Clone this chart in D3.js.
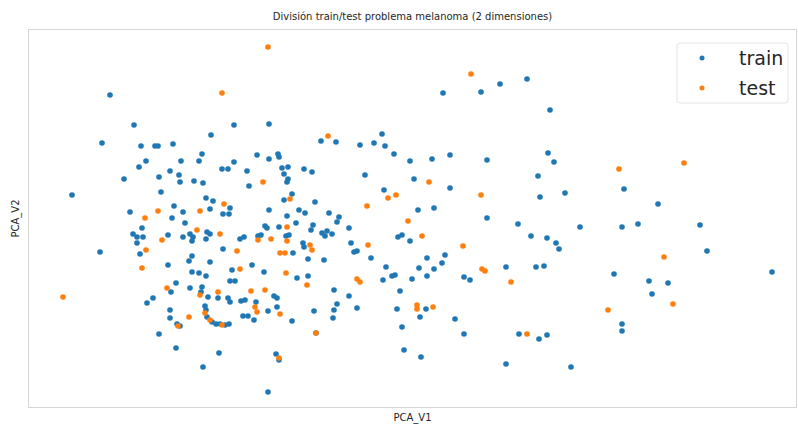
<!DOCTYPE html>
<html>
<head>
<meta charset="utf-8">
<script src="https://cdn.jsdelivr.net/npm/d3@7"></script>
<style>
  body { margin: 0; background: #fff; }
  text { font-family: "DejaVu Sans", sans-serif; fill: #262626; }
</style>
</head>
<body>
<svg width="798" height="425"></svg>
<script>
// PCA scores (approximate)
const trainX = [-2.90,-2.66,-1.89,-2.98,-2.59,-2.45,-2.42,-2.27,-1.98,-2.54,-2.19,-2.01,-2.61,-2.30,-1.78,-1.72,-2.21,-2.41,-2.76,-2.20,-2.06,-1.97,-2.39,-3.28,-1.94,-1.87,-2.26,-2.70,-2.17,-1.90,
  -2.28,-2.15,-1.77,-2.58,-2.67,-2.63,-2.57,-2.63,-2.32,-2.17,-2.10,-2.07,-2.08,-1.93,-1.94,-1.90,-3.00,-2.60,-1.77,-2.08,-2.11,-1.90,-2.32,-2.08,-2.01,-1.94,-2.24,-2.29,-2.10,-1.98,
  -1.99,-1.92,-1.82,-1.72,-2.47,-2.53,-1.95,-1.94,-2.30,-2.30,-2.41,-2.24,-1.81,-1.97,-1.93,-1.88,-1.84,-1.80,-1.75,-1.71,-2.23,-2.20,
  -1.66,-1.31,-0.79,-0.64,-0.40,-0.26,-0.18,-0.15,-0.06,-1.43,-1.31,-1.22,-1.21,-1.66,-1.53,-1.18,-1.12,-1.16,-0.96,-0.88,-1.12,-1.13,-1.51,-0.35,-0.16,-0.85,-1.70,-1.31,-1.01,-0.95,-0.71,-1.08,-1.16,
  -1.71,-1.13,-0.61,-0.63,-1.35,-1.33,-1.21,-1.04,-0.87,-0.89,-0.78,-0.75,-0.73,-0.68,-0.51,-1.60,-1.56,-1.42,-1.39,-1.14,-1.11,-0.97,-0.96,-0.49,-0.46,-0.43,-0.02,-1.07,-0.92,-0.76,-0.29,
  -1.48,-1.36,-0.14,-0.08,-0.05,-0.17,-1.03,-0.92,-1.70,-1.65,-0.66,0.00,-1.70,-1.59,-1.55,-1.26,-1.23,-0.51,-0.63,-1.23,-1.32,-0.86,-0.66,-0.43,-0.03,-1.57,-1.52,-1.46,-0.67,-1.08,0.02,0.04,-1.32,
  -1.68,-1.44,-0.84,-1.24,-1.21,
  1.00,1.27,0.43,0.81,1.50,0.10,0.32,0.50,0.87,1.48,1.54,0.14,0.50,1.38,1.40,1.65,0.18,0.34,
  0.87,1.18,1.80,0.02,0.10,1.31,1.47,1.56,1.59,0.27,0.45,0.42,0.19,0.34,0.27,0.12,0.64,0.70,1.06,1.36,1.44,0.26,0.20,0.55,0.64,1.19,1.47,1.39,0.21,1.06,1.71,
  2.24,2.58,2.22,2.38,3.00,3.07,2.14,2.49,2.68,3.72,2.52,2.22,2.22];
const trainY = [1.25,0.95,0.85,0.77,0.74,0.74,0.74,0.76,0.66,0.59,0.59,0.59,0.53,0.49,0.51,0.51,0.45,0.43,0.41,0.38,0.39,0.37,0.28,0.25,0.22,0.19,0.14,0.08,0.08,0.11,
  0.02,-0.03,0.06,-0.08,-0.14,-0.17,-0.17,-0.23,-0.15,-0.17,-0.14,-0.17,-0.21,-0.12,-0.19,-0.14,-0.32,-0.34,-0.29,-0.36,-0.41,-0.42,-0.45,-0.52,-0.53,-0.56,-0.63,-0.72,-0.68,-0.67,
  -0.72,-0.77,-0.78,-0.78,-0.78,-0.83,-0.86,-0.90,-0.90,-0.98,-1.14,-1.28,-1.33,-1.47,-0.97,-1.02,-1.04,-1.04,-1.05,-1.04,-1.04,-1.06,
  0.95,0.96,0.79,0.78,0.75,0.77,0.86,0.74,0.66,0.65,0.61,0.66,0.63,0.58,0.49,0.52,0.53,0.46,0.51,0.48,0.41,0.38,0.34,0.45,0.30,0.18,0.12,0.10,0.10,0.07,0.07,0.26,0.20,
  0.06,0.04,0.03,-0.02,-0.06,-0.08,-0.07,-0.03,-0.05,-0.10,-0.13,-0.16,-0.11,-0.14,-0.08,-0.19,-0.17,-0.16,-0.15,-0.16,-0.15,-0.23,-0.27,-0.23,-0.32,-0.31,-0.17,-0.33,-0.39,-0.40,-0.38,
  -0.45,-0.52,-0.47,-0.56,-0.55,-0.60,-0.58,-0.56,-0.61,-0.61,-0.70,-0.71,-0.82,-0.81,-0.80,-0.76,-0.78,-0.76,-0.84,-0.87,-0.91,-0.91,-0.90,-0.88,-0.89,-0.96,-0.96,-1.00,-0.98,-1.01,-1.07,-1.30,-1.72,
  -0.50,-0.82,-1.13,-1.34,-1.40,
  1.36,1.41,1.27,1.28,1.10,0.59,0.61,0.65,0.60,0.67,0.58,0.41,0.32,0.44,0.23,0.27,0.10,0.12,
  0.02,-0.04,-0.07,-0.15,-0.21,-0.16,-0.18,-0.23,-0.29,-0.38,-0.35,-0.43,-0.48,-0.49,-0.56,-0.59,-0.57,-0.60,-0.47,-0.47,-0.46,-0.89,-0.97,-0.99,-1.14,-1.14,-1.15,-1.19,-1.37,-1.44,-1.47,
  0.31,0.16,-0.07,-0.04,-0.05,-0.31,-0.54,-0.61,-0.63,-0.52,-0.74,-1.04,-1.11];

const testX = [-1.78,-1.76,-2.42,-2.00,-2.55,-2.38,-2.03,-1.80,-2.54,-2.58,-2.33,-2.00,-1.82,-3.37,-2.11,-1.95,-1.90,-1.78,-2.22,
  -1.32,-0.72,-1.37,-0.12,-0.04,-0.33,-1.10,-1.13,-1.42,-1.29,-1.13,-0.90,-0.88,-0.32,-1.63,-1.20,-1.15,-1.14,-0.43,-0.40,-0.93,-1.49,-1.35,-1.43,-1.20,-1.60,-1.45,-0.84,-1.21,
  0.71,0.29,0.81,0.08,0.22,0.63,0.82,0.85,1.11,0.17,0.17,0.33,1.27,
  2.19,2.84,2.64,2.73,2.08];
const testY = [1.27,0.16,0.09,0.09,0.02,-0.20,-0.10,-0.14,-0.30,-0.48,-0.68,-0.75,-0.72,-0.77,-0.97,-0.93,-1.00,-1.05,-1.06,
  1.73,0.84,0.38,0.22,0.25,0.14,0.21,-0.07,-0.20,-0.19,-0.21,-0.25,-0.30,-0.25,-0.31,-0.33,-0.33,-0.53,-0.59,-0.62,-0.65,-0.71,-0.70,-0.92,-0.94,-0.49,-0.87,-1.13,-1.38,
  1.46,0.38,0.25,-0.01,-0.16,-0.26,-0.49,-0.51,-0.62,-0.85,-0.89,-0.87,-1.14,
  0.51,0.57,-0.37,-0.84,-0.90];

const seriesNames = ["train", "test"];
const seriesColors = ["#1f77b4", "#ff7f0e"];

const svg = d3.select("svg");
const margin = { top: 29, right: 1, bottom: 17, left: 28 };
const width = +svg.attr("width");
const height = +svg.attr("height");

const x = d3.scaleLinear().domain([-3.72, 3.97]).range([margin.left, width - margin.right]);
const y = d3.scaleLinear().domain([-1.88, 1.91]).range([height - margin.bottom, margin.top]);

// frame
svg.append("rect")
  .attr("x", margin.left + 0.5)
  .attr("y", margin.top + 0.5)
  .attr("width", width - margin.left - margin.right - 1)
  .attr("height", height - margin.top - margin.bottom - 1)
  .attr("fill", "none")
  .attr("stroke", "#d6d6d6");

const series = [
  d3.zip(trainX, trainY),
  d3.zip(testX, testY)
];

series.forEach((pts, i) => {
  svg.append("g")
    .selectAll("circle")
    .data(pts)
    .enter()
    .append("circle")
    .attr("cx", d => x(d[0]))
    .attr("cy", d => y(d[1]))
    .attr("r", 2.8)
    .attr("fill", seriesColors[i]);
});

svg.append("text")
  .attr("x", (margin.left + width - margin.right) / 2)
  .attr("y", 20)
  .attr("text-anchor", "middle")
  .style("font-size", "10px")
  .text("División train/test problema melanoma (2 dimensiones)");

svg.append("text")
  .attr("x", (margin.left + width - margin.right) / 2)
  .attr("y", 421)
  .attr("text-anchor", "middle")
  .style("font-size", "10px")
  .text("PCA_V1");

svg.append("text")
  .attr("transform", "translate(19," + (margin.top + height - margin.bottom) / 2 + ") rotate(-90)")
  .attr("text-anchor", "middle")
  .style("font-size", "10px")
  .text("PCA_V2");

// legend
const legend = svg.append("g").attr("transform", "translate(677,43)");
legend.append("rect")
  .attr("width", 111)
  .attr("height", 60)
  .attr("rx", 3)
  .attr("fill", "#fff")
  .attr("fill-opacity", 0.8)
  .attr("stroke", "#e3e3e3");

seriesNames.forEach((name, i) => {
  legend.append("circle")
    .attr("cx", 25)
    .attr("cy", 15 + i * 30)
    .attr("r", 2.5)
    .attr("fill", seriesColors[i]);
  legend.append("text")
    .attr("x", 62)
    .attr("y", 15 + i * 30)
    .attr("dy", "0.35em")
    .style("font-size", "19px")
    .text(name);
});
</script>
</body>
</html>
